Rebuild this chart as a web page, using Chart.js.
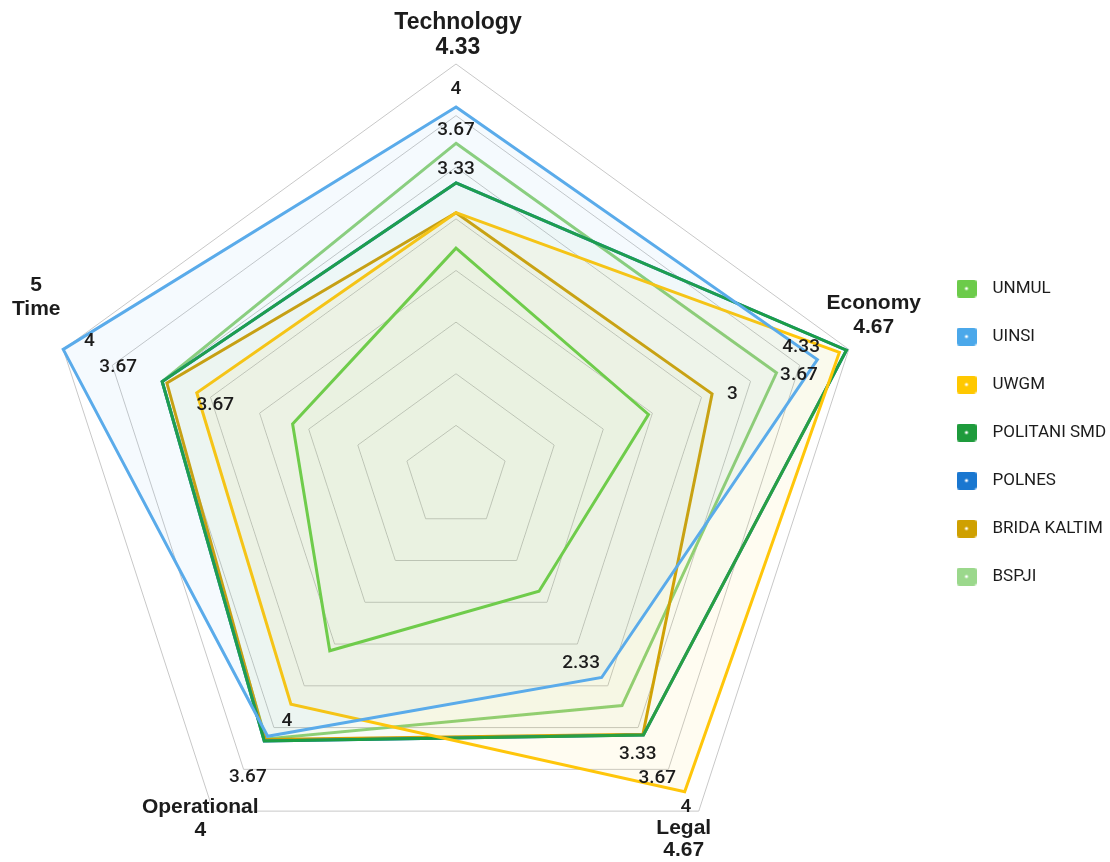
<!DOCTYPE html>
<html>
<head>
<meta charset="utf-8">
<script src="https://cdn.jsdelivr.net/npm/chart.js@4/dist/chart.umd.min.js"></script>
<style>
  html, body { margin: 0; padding: 0; background: #ffffff; overflow: hidden; }
  #wrap { width: 1110px; height: 862px; position: relative; overflow: hidden; }
  #inner { position: absolute; left: -6px; top: 0; width: 1118px; height: 890px; }
</style>
</head>
<body>
<div id="wrap"><div id="inner"><canvas id="c"></canvas></div></div>
<script>
// ---- data ----
const categories = ['Technology', 'Economy', 'Legal', 'Operational', 'Time'];
const axisScores = ['4.33', '4.67', '4.67', '4', '5'];
const seriesNames = ['UNMUL', 'UINSI', 'UWGM', 'POLITANI SMD', 'POLNES', 'BRIDA KALTIM', 'BSPJI'];
const unmul      = [2.77, 2.45, 1.71, 2.60, 2.08];
const uinsi      = [4.48, 4.60, 3.00, 3.88, 5.00];
const uwgm       = [3.20, 4.88, 4.71, 3.40, 3.30];
const politani   = [3.56, 4.97, 3.86, 3.95, 3.74];
const polnes     = [3.56, 4.97, 3.86, 3.95, 3.74];
const brida      = [3.20, 3.26, 3.85, 3.93, 3.68];
const bspji      = [4.04, 4.08, 3.42, 3.92, 3.74];
const seriesValues = [unmul, uinsi, uwgm, politani, polnes, brida, bspji];
// value labels shown along each axis
const valueLabelTexts = [
  ['4', '3.67', '3.33'],
  ['4.33', '3.67', '3'],
  ['2.33', '3.33', '3.67', '4'],
  ['4', '3.67'],
  ['4', '3.67', '3.67']
];
const scaleMin = 0, scaleMax = 5, scaleStep = 0.625;

// ---- styles ----
const colors = ['#6FCC4B', '#5AABEA', '#FFC60A', '#1C9E45', '#1B74CC', '#D2A006', '#8ED17A'];
const fillAlpha = [0.025, 0.06, 0.06, 0.025, 0.0, 0.025, 0.025];
const swatchColors = ['#6CCB4A', '#4BA8EA', '#FFC800', '#1E9B3C', '#1A77D0', '#CFA000', '#9BD88C'];
function rgba(hex, a) {
  const n = parseInt(hex.slice(1), 16);
  return `rgba(${(n >> 16) & 255},${(n >> 8) & 255},${n & 255},${a})`;
}
function makeSwatch(color) {
  const c = document.createElement('canvas');
  c.width = 20; c.height = 18;
  const g = c.getContext('2d');
  g.fillStyle = color;
  g.beginPath();
  if (g.roundRect) g.roundRect(0, 0, 20, 18, 3); else g.rect(0, 0, 20, 18);
  g.fill();
  g.fillStyle = '#ffffff';
  g.beginPath(); g.arc(10, 9, 1.6, 0, Math.PI * 2); g.fill();
  return c;
}
const swatches = swatchColors.map(makeSwatch);

// placement of value labels: [value along axis, sideways shift px]
const valueLabelPlacement = [
  [[4.69, 0], [4.20, 0], [3.72, 0]],
  [[4.46, -17], [4.33, 9], [3.49, 7]],
  [[2.71, 8], [4.01, 16], [4.38, 14], [4.87, 8]],
  [[3.60, -7], [4.42, -8]],
  [[4.73, 16], [4.30, 0], [3.04, -6]]
];
// axis title offsets from outer vertex: [dx, dy line1, dy line2]
const titleOffsets = [[2, -41, -16], [25, -46, -22], [-15, 17, 39], [-13, -4, 19], [-27, -64, -40]];

const labelPlugin = {
  id: 'radarLabels',
  afterDatasetsDraw(chart) {
    const s = chart.scales.r, ctx = chart.ctx;
    ctx.save();
    ctx.fillStyle = '#1c1c1c';
    ctx.textAlign = 'center';
    ctx.textBaseline = 'middle';
    ctx.font = '500 19px Roboto';
    valueLabelTexts.forEach((texts, axis) => {
      texts.forEach((t, k) => {
        const [v, shift] = valueLabelPlacement[axis][k];
        const p = s.getPointPosition(axis, s.getDistanceFromCenterForValue(v));
        const px = -Math.sin(p.angle), py = Math.cos(p.angle);
        ctx.fillText(t, p.x + px * shift, p.y + py * shift);
      });
    });
    categories.forEach((name, i) => {
      const p = s.getPointPosition(i, s.drawingArea);
      const [dx, d1, d2] = titleOffsets[i];
      const lines = (i === 4) ? [axisScores[i], name] : [name, axisScores[i]];
      ctx.font = (i === 0 ? 'bold 23px' : 'bold 21px') + ' "Liberation Sans", Arial, sans-serif';
      ctx.fillText(lines[0], p.x + dx, p.y + d1);
      ctx.fillText(lines[1], p.x + dx, p.y + d2);
    });
    ctx.restore();
  }
};

const datasets = seriesNames.map((name, i) => ({
  label: name,
  data: seriesValues[i],
  borderColor: colors[i],
  backgroundColor: rgba(colors[i], fillAlpha[i]),
  borderWidth: 3,
  pointRadius: 0,
  pointHoverRadius: 0,
  fill: true,
  tension: 0
}));

new Chart(document.getElementById('c'), {
  type: 'radar',
  data: { labels: categories, datasets },
  options: {
    responsive: true,
    maintainAspectRatio: false,
    animation: false,
    layout: { padding: { left: 0, right: 4, top: 64, bottom: 0 } },
    scales: {
      r: {
        min: scaleMin,
        max: scaleMax,
        ticks: { display: false, stepSize: scaleStep },
        grid: { color: '#c8c8c8', lineWidth: 1 },
        angleLines: { display: false },
        pointLabels: { display: false }
      }
    },
    plugins: {
      tooltip: { enabled: false },
      legend: {
        position: 'right',
        align: 'start',
        maxWidth: 190,
        title: { display: true, text: '', font: { size: 10, lineHeight: 1 }, padding: { top: 175, bottom: 0 } },
        labels: {
          usePointStyle: true,
          pointStyleWidth: 35,
          padding: 31,
          color: '#1c1c1c',
          font: { family: 'Roboto', size: 17 },
          generateLabels(chart) {
            const items = Chart.defaults.plugins.legend.labels.generateLabels(chart);
            items.forEach((it, i) => { it.pointStyle = swatches[i]; });
            return items;
          }
        }
      }
    }
  },
  plugins: [labelPlugin]
});
</script>
</body>
</html>
